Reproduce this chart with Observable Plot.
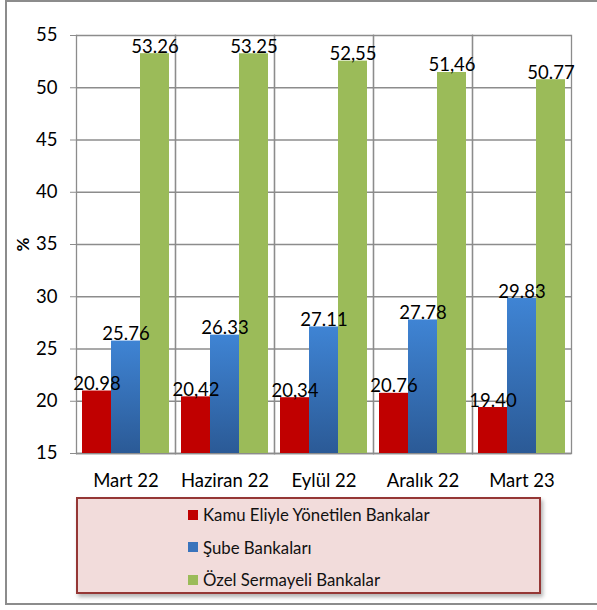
<!DOCTYPE html>
<html><head><meta charset="utf-8">
<script src="https://cdn.jsdelivr.net/npm/d3@7"></script>
<script src="https://cdn.jsdelivr.net/npm/@observablehq/plot@0.6"></script>
<style>
body{margin:0;background:#fff;}
#wrap{position:relative;width:597px;height:610px;overflow:hidden;font-family:Lato,"Open Sans",sans-serif;}
#border{position:absolute;left:5px;top:0px;width:600px;height:605px;border:2px solid #8c8c8c;box-sizing:border-box;}
#legend{position:absolute;left:76px;top:497px;width:465px;height:97px;background:#F2DCDB;border:2px solid #953735;box-sizing:border-box;box-shadow:2px 3px 4px rgba(0,0,0,0.3);}
.item{position:absolute;left:110px;font-size:16.8px;color:#111;display:flex;align-items:center;}
.sw{width:10px;height:10px;margin-right:5px;}
</style></head>
<body>
<svg width="0" height="0" style="position:absolute">
<defs><linearGradient id="blueGrad" x1="0" y1="0" x2="0" y2="1">
<stop offset="0" stop-color="#3F84D4"/><stop offset="1" stop-color="#2B5A96"/></linearGradient></defs>
</svg>
<div id="wrap"><div id="border"></div><div id="chart"></div><div id="legend"></div></div>
<script>
const categories = ["Mart 22","Haziran 22","Eylül 22","Aralık 22","Mart 23"];
const series = ["Kamu Eliyle Yönetilen Bankalar","Şube Bankaları","Özel Sermayeli Bankalar"];
const kamu = [20.98,20.42,20.34,20.76,19.40];
const sube = [25.76,26.33,27.11,27.78,29.83];
const ozel = [53.26,53.25,52.55,51.46,50.77];
const kamuLabels = ["20.98","20,42","20,34","20.76","19.40"];
const subeLabels = ["25.76","26.33","27.11","27.78","29.83"];
const ozelLabels = ["53.26","53.25","52,55","51,46","50.77"];
const yTicks = [15,20,25,30,35,40,45,50,55];
const swatchColors = ["#C00000","#3A74BC","#9BBB59"];

const data = [];
categories.forEach((c,i)=>{
  data.push({cat:c, s:series[0], v:kamu[i], lab:kamuLabels[i]});
  data.push({cat:c, s:series[1], v:sube[i], lab:subeLabels[i]});
  data.push({cat:c, s:series[2], v:ozel[i], lab:ozelLabels[i]});
});

const chart = Plot.plot({
  width:597, height:610,
  marginLeft:74, marginRight:25, marginTop:35, marginBottom:157,
  style:{fontFamily:"Lato, 'Open Sans', sans-serif", fontSize:"18px", color:"#000", background:"transparent"},
  fx:{domain:categories, padding:0, label:null, axis:null},
  x:{domain:series, paddingInner:0, paddingOuter:0.167, axis:null},
  y:{domain:[15,55], ticks:yTicks},
  marks:[
    Plot.gridY(yTicks, {stroke:"#8c8c8c", strokeOpacity:1, strokeWidth:1.3}),
    Plot.frame({anchor:"left", stroke:"#8c8c8c", strokeWidth:1.3}),
    Plot.frame({anchor:"right", stroke:"#8c8c8c", strokeWidth:1.3}),
    Plot.ruleY([15], {stroke:"#8c8c8c", strokeWidth:1.3}),
    Plot.barY(data, {fx:"cat", x:"s", y1:15, y2:"v", fill:d=>d.s==series[1]?"url(#blueGrad)":(d.s==series[0]?"#C00000":"#9BBB59")}),
    Plot.text(data, {fx:"cat", x:"s", y:"v", text:"lab", lineAnchor:"bottom", dy:-1, fontSize:18.5, fill:"#000"}),
    Plot.axisY(yTicks, {tickSize:6, tickPadding:13, stroke:"#8c8c8c", fontSize:18.5, label:"%", labelAnchor:"center", labelOffset:60, labelArrow:"none"}),
    Plot.axisFx({anchor:"bottom", tickSize:0, tickPadding:20, fontSize:18.5, label:null})
  ]
});
document.getElementById("chart").appendChild(chart);
chart.querySelectorAll("text").forEach(t=>{ if(t.textContent==="%"){ t.style.fontWeight="bold"; t.setAttribute("font-size","17"); }});

const lg = document.getElementById("legend");
series.forEach((s,i)=>{
  const d=document.createElement("div"); d.className="item";
  d.style.top=(5+i*32.5)+"px";
  d.innerHTML=`<span class="sw" style="background:${swatchColors[i]}"></span><span>${s}</span>`;
  lg.appendChild(d);
});
</script>
</body></html>
